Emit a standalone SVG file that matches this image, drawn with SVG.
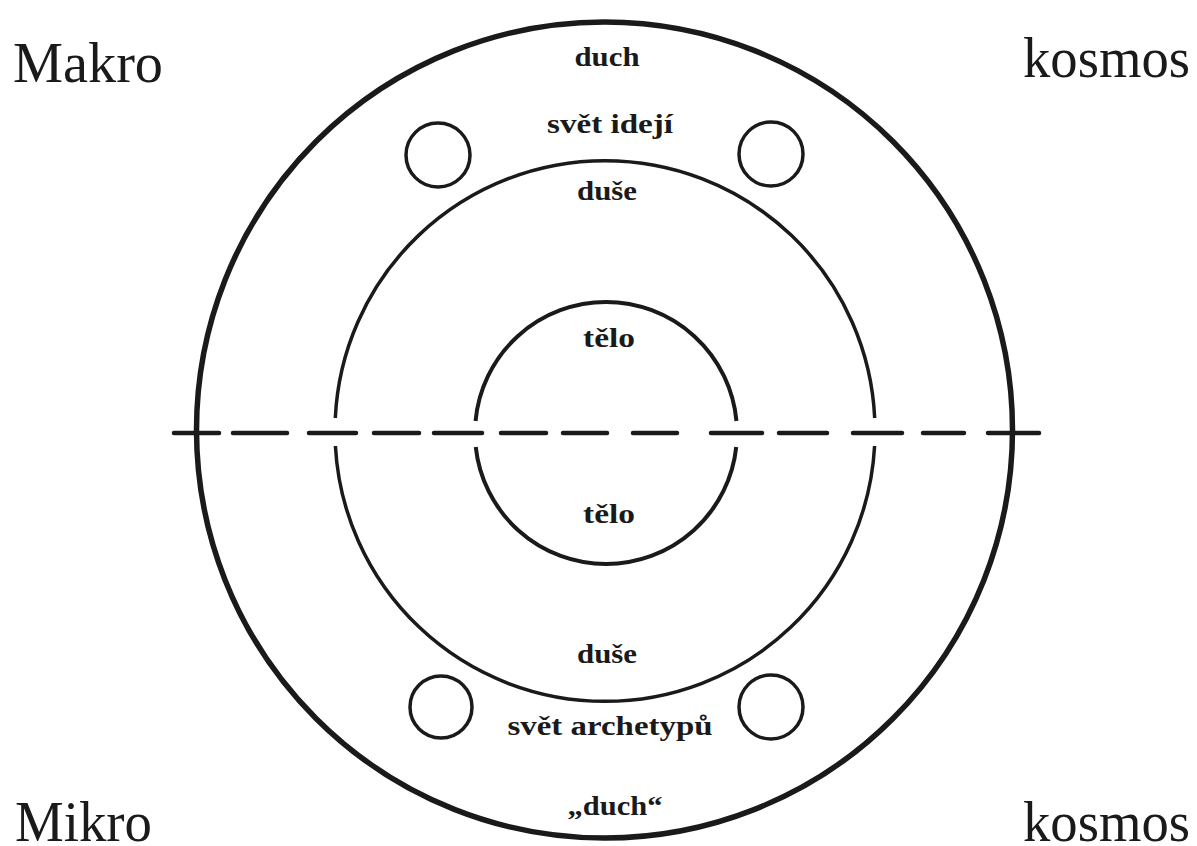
<svg xmlns="http://www.w3.org/2000/svg" width="1197" height="846" viewBox="0 0 1197 846">
<style>
.big{font-family:"Liberation Serif","Times New Roman",serif;font-size:56px;fill:#1a1a1a}
.lbl{font-family:"Liberation Serif","Times New Roman",serif;font-weight:bold;font-size:28px;fill:#1a1a1a;text-anchor:middle}
.ring{fill:none;stroke:#1a1a1a}
.dash{stroke:#1a1a1a;stroke-width:4.5;stroke-linecap:round}
</style>
<rect width="1197" height="846" fill="#ffffff"/>
<g id="outer-circle"><circle class="ring" cx="604.5" cy="430" r="408" stroke-width="5.5"/></g>
<g id="middle-circle">
<path class="ring" stroke-width="3.5" d="M 335.3 418 A 270 270 0 0 1 874.7 418"/>
<path class="ring" stroke-width="3.5" d="M 335.4 446 A 270 270 0 0 0 874.6 446"/>
</g>
<g id="inner-circle">
<path class="ring" stroke-width="4" d="M 475.55 421 A 131 131 0 0 1 736.45 421"/>
<path class="ring" stroke-width="4" d="M 475.75 447 A 131 131 0 0 0 736.25 447"/>
</g>
<g id="small-circles">
<circle class="ring" stroke-width="3.5" cx="438" cy="155" r="32"/>
<circle class="ring" stroke-width="3.5" cx="771" cy="154" r="32"/>
<circle class="ring" stroke-width="3.5" cx="441" cy="707" r="31"/>
<circle class="ring" stroke-width="3.5" cx="771" cy="707" r="32"/>
</g>
<g id="connectors">
<line class="dash" x1="174" y1="433" x2="219" y2="433"/>
<line class="dash" x1="233" y1="433" x2="287" y2="433"/>
<line class="dash" x1="309" y1="433" x2="356" y2="433"/>
<line class="dash" x1="374" y1="433" x2="419" y2="433"/>
<line class="dash" x1="434" y1="433" x2="482" y2="433"/>
<line class="dash" x1="501" y1="433" x2="546" y2="433"/>
<line class="dash" x1="563" y1="433" x2="607" y2="433"/>
<line class="dash" x1="633" y1="433" x2="677" y2="433"/>
<line class="dash" x1="711" y1="433" x2="762" y2="433"/>
<line class="dash" x1="779" y1="433" x2="827" y2="433"/>
<line class="dash" x1="853" y1="433" x2="902" y2="433"/>
<line class="dash" x1="923" y1="433" x2="964" y2="433"/>
<line class="dash" x1="988" y1="433" x2="1039" y2="433"/>
</g>
<g id="corner-labels">
<text class="big" x="13" y="82" textLength="150" lengthAdjust="spacingAndGlyphs">Makro</text>
<text class="big" x="1023" y="77" textLength="167" lengthAdjust="spacingAndGlyphs">kosmos</text>
<text class="big" x="15" y="841" textLength="137" lengthAdjust="spacingAndGlyphs">Mikro</text>
<text class="big" x="1023" y="841" textLength="167" lengthAdjust="spacingAndGlyphs">kosmos</text>
</g>
<g id="ring-labels">
<text class="lbl" x="607" y="66" textLength="65" lengthAdjust="spacingAndGlyphs">duch</text>
<text class="lbl" x="610" y="133" textLength="126" lengthAdjust="spacingAndGlyphs">svět idejí</text>
<text class="lbl" x="607" y="200" textLength="60" lengthAdjust="spacingAndGlyphs">duše</text>
<text class="lbl" x="609" y="347" textLength="52" lengthAdjust="spacingAndGlyphs">tělo</text>
<text class="lbl" x="609" y="523" textLength="52" lengthAdjust="spacingAndGlyphs">tělo</text>
<text class="lbl" x="607" y="663" textLength="60" lengthAdjust="spacingAndGlyphs">duše</text>
<text class="lbl" x="610" y="735" textLength="205" lengthAdjust="spacingAndGlyphs">svět archetypů</text>
<text class="lbl" x="615" y="815" textLength="95" lengthAdjust="spacingAndGlyphs">„duch“</text>
</g>
</svg>
